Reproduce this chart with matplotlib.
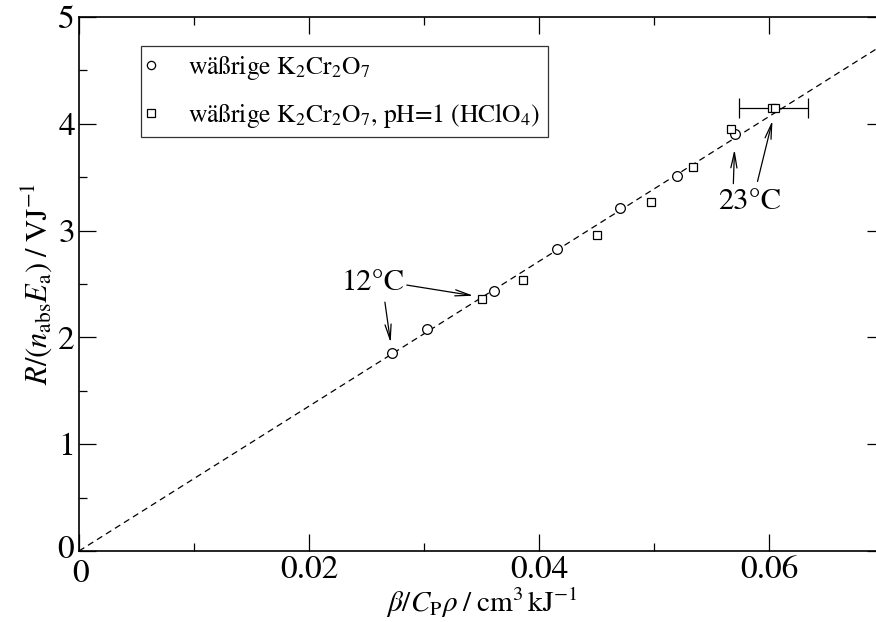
import matplotlib
matplotlib.use("Agg")
import matplotlib.pyplot as plt
import matplotlib.transforms as mtransforms
import numpy as np
from matplotlib.ticker import MultipleLocator

plt.rcParams["font.family"] = ["STIXGeneral", "DejaVu Serif"]
plt.rcParams["mathtext.fontset"] = "stix"

# aqueous K2Cr2O7
x_plain = [0.0272, 0.0303, 0.0361, 0.0416, 0.0470, 0.0520, 0.0570]
y_plain = [1.85, 2.08, 2.43, 2.83, 3.21, 3.51, 3.90]

# aqueous K2Cr2O7 at pH=1 (HClO4)
x_acid = [0.0350, 0.0386, 0.0450, 0.0497, 0.0534, 0.0567, 0.0603, 0.0605]
y_acid = [2.36, 2.54, 2.96, 3.27, 3.60, 3.95, 4.15, 4.15]

# point with horizontal uncertainty
x_err_pt = 0.0604
y_err_pt = 4.15
x_err = 0.003

slope = 67.8  # fitted line through the origin

fig = plt.figure(figsize=(8.76, 6.22), dpi=100)
ax = fig.add_axes([79 / 876, 71 / 622, 805 / 876, 534 / 622])

xl = np.array([0.0, 0.07])
ax.plot(xl, slope * xl, ls=(0, (5, 3.5)), color="black", lw=0.9, zorder=1)

ax.plot(x_plain, y_plain, "o", mfc="white", mec="black", ms=7, mew=0.9,
        ls="none", zorder=3, label=r"wäßrige K$_2$Cr$_2$O$_7$")
ax.plot(x_acid, y_acid, "s", mfc="white", mec="black", ms=6, mew=0.9,
        ls="none", zorder=3,
        label=r"wäßrige K$_2$Cr$_2$O$_7$, pH=1 (HClO$_4$)")
ax.errorbar([x_err_pt], [y_err_pt], xerr=[x_err], fmt="none", ecolor="black",
            elinewidth=0.9, capsize=7, capthick=0.9, zorder=2)

arrow = dict(arrowstyle="->,head_length=1.1,head_width=0.22", color="black",
             lw=0.9, shrinkA=0, shrinkB=0)
ax.text(0.02557, 2.51, "12°C", fontsize=22, ha="center", va="center")
ax.annotate("", xy=(0.0271, 1.95), xytext=(0.0266, 2.33), arrowprops=arrow)
ax.annotate("", xy=(0.0343, 2.39), xytext=(0.0285, 2.49), arrowprops=arrow)

ax.text(0.0583, 3.27, "23°C", fontsize=22, ha="center", va="center")
ax.annotate("", xy=(0.0570, 3.76), xytext=(0.0569, 3.44), arrowprops=arrow)
ax.annotate("", xy=(0.0603, 4.03), xytext=(0.0590, 3.46), arrowprops=arrow)

ax.set_xlim(0, 0.07)
ax.set_ylim(0, 5)
ax.xaxis.set_minor_locator(MultipleLocator(0.01))
ax.yaxis.set_minor_locator(MultipleLocator(0.5))
ax.set_xticks([0, 0.02, 0.04, 0.06])
ax.set_xticklabels(["0", "0.02", "0.04", "0.06"])
ax.set_yticks([0, 1, 2, 3, 4, 5])
ax.set_yticklabels(["0", "1", "2", "3", "4", "5"])
ax.tick_params(which="both", direction="in", top=True, right=True,
               labelsize=24, width=0.9)
ax.tick_params(which="major", length=12, pad=3)
ax.tick_params(which="minor", length=6)
for s in ax.spines.values():
    s.set_linewidth(1.2)

# keep the two zero labels at the origin apart
xzero = ax.get_xticklabels()[0]
xzero.set_transform(xzero.get_transform() +
                    mtransforms.ScaledTranslation(2 / 100, -4 / 100, fig.dpi_scale_trans))
yzero = ax.get_yticklabels()[0]
yzero.set_transform(yzero.get_transform() +
                    mtransforms.ScaledTranslation(-1 / 100, 4 / 100, fig.dpi_scale_trans))

ax.set_xlabel(r"$\beta/C_{\mathrm{P}}\rho\;/\;\mathrm{cm}^3\,\mathrm{kJ}^{-1}$",
              fontsize=21, labelpad=-2)
ax.set_ylabel(r"$R/(n_{\mathrm{abs}}E_{\mathrm{a}})\;/\;\mathrm{VJ}^{-1}$",
              fontsize=22, labelpad=2)

leg = ax.legend(loc="upper left", bbox_to_anchor=(0.077, 0.9457), fontsize=18.4,
                frameon=True, fancybox=False, edgecolor="black",
                borderaxespad=0, handlelength=0.2, handletextpad=1.35,
                borderpad=0.3, labelspacing=0.75, markerscale=0.85)
leg.get_frame().set_linewidth(0.9)

fig.savefig("out.png", dpi=100)
